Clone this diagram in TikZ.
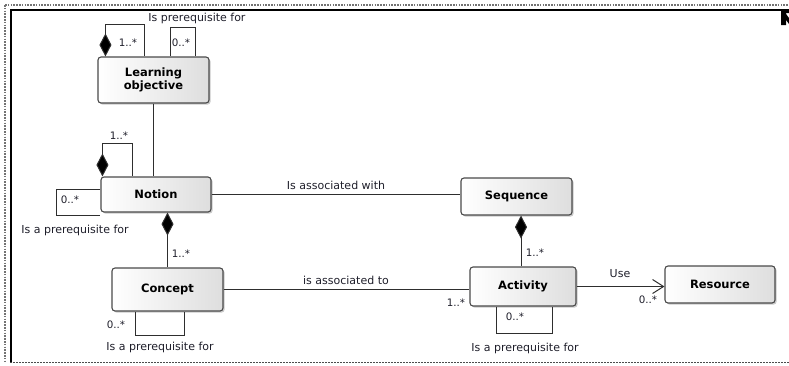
\documentclass[tikz,border=0pt]{standalone}
\usepackage{fontspec}
\setmainfont{DejaVu Sans}
\usetikzlibrary{arrows.meta,shadows}

\definecolor{edge}{HTML}{2E2E2E}
\definecolor{boxline}{HTML}{4A4A4A}
\definecolor{txt}{HTML}{1E1E2A}

\tikzset{
  classbox/.style={draw=boxline, line width=1.1pt, rounded corners=3pt,
    left color=white, right color=black!13,
    drop shadow={shadow xshift=1.6pt, shadow yshift=-1.6pt, opacity=0.35, fill=black!60},
    inner sep=0pt, align=center,
    font=\fontsize{11.5}{14}\selectfont\bfseries, text=black},
  assoc/.style={draw=edge, line width=1pt},
  comp/.style={assoc, {Diamond[length=23pt, width=12pt, fill=black]}-},
  uses/.style={assoc, -{Straight Barb[length=11pt, width=14pt, line width=1pt]}},
  lbl/.style={font=\fontsize{11}{13}\selectfont, text=txt, inner sep=1pt},
  mult/.style={font=\fontsize{10.3}{12}\selectfont, text=txt, inner sep=1pt},
  hatch/.style={draw=black!55, line width=1.6pt, dash pattern=on 1.6pt off 1.2pt},
}

\begin{document}
\begin{tikzpicture}[x=1pt, y=-1pt]
\useasboundingbox (0,0) rectangle (789,365);

% surrounding frame
\draw[hatch] (5,5) -- (789,5);
\draw[hatch] (5,5) -- (5,362);
\draw[black!70, line width=1.2pt, dash pattern=on 1.5pt off 1.5pt] (10,362.5) -- (789,362.5);
\draw[black, line width=2pt] (10.5,362) -- (10.5,10) -- (783,10);
\fill[black] (781,9) -- (789,9) -- (789,13) -- (786,13) -- (786,25) -- (781,25) -- cycle;
\fill[black] (786,14) -- (789,18) -- (789,24) -- (786,20) -- cycle;

% classes
\node[classbox, minimum width=111pt, minimum height=46pt] (lo) at (153.5,80) {Learning\\[-1pt]objective};
\node[classbox, minimum width=110pt, minimum height=35pt] (notion) at (156,194.5) {Notion};
\node[classbox, minimum width=111pt, minimum height=43pt] (concept) at (167.5,289.5) {Concept};
\node[classbox, minimum width=111pt, minimum height=37pt] (sequence) at (516.5,196.5) {Sequence};
\node[classbox, minimum width=106pt, minimum height=39pt] (activity) at (523,286.5) {Activity};
\node[classbox, minimum width=110pt, minimum height=37pt] (resource) at (720,284.5) {Resource};

% learning objective: self associations
\draw[comp] ([xshift=8pt]lo.north west) -- ++(0,-32) -| ([xshift=47pt]lo.north west);
\draw[assoc] ([xshift=73pt]lo.north west) -- ++(0,-29) -| ([xshift=98pt]lo.north west);
\node[mult] (m1) at (128,43) {1..*};
\node[mult, fill=white] (m2) at (181,43) {0..*};
\node[lbl] (l1) at (197,18) {Is prerequisite for};

% learning objective -- notion
\draw[assoc] (lo.south) -- (lo.south |- notion.north);

% notion: self associations
\draw[comp] ([xshift=2pt]notion.north west) -- ++(0,-33) -| ([xshift=32pt]notion.north west);
\draw[assoc] ([yshift=-13pt]notion.north west) -- ++(-44,0) -- ++(0,26) -- ++(44,0);
\node[mult] (m3) at (119,136) {1..*};
\node[mult] (m4) at (70,200) {0..*};
\node[lbl] (l2) at (75,230) {Is a prerequisite for};

% notion -- concept
\draw[comp] (concept.north |- notion.south) -- (concept.north);
\node[mult] (m5) at (181,254) {1..*};

% concept: self association
\draw[assoc] ([xshift=24pt]concept.south west) -- ++(0,24) -| ([xshift=73pt]concept.south west);
\node[mult] (m6) at (116,325) {0..*};
\node[lbl] (l3) at (160,347) {Is a prerequisite for};

% notion -- sequence
\draw[assoc] (notion.east) -- (notion.east -| sequence.west);
\node[lbl] (l4) at (336,185) {Is associated with};

% concept -- activity
\draw[assoc] (concept.east) -- (concept.east -| activity.west);
\node[lbl] (l5) at (346,280) {is associated to};
\node[mult] (m7) at (456,303) {1..*};

% sequence -- activity
\draw[comp] ([xshift=-2pt]activity.north |- sequence.south) -- ([xshift=-2pt]activity.north);
\node[mult] (m8) at (535,253) {1..*};

% activity: self association
\draw[assoc] ([xshift=27pt]activity.south west) -- ++(0,27) -| ([xshift=83pt]activity.south west);
\node[mult] (m9) at (515,317) {0..*};
\node[lbl] (l6) at (525,348) {Is a prerequisite for};

% activity -- resource
\draw[uses] (activity.east) -- (activity.east -| resource.west);
\node[lbl] (l7) at (620,274) {Use};
\node[mult] (m10) at (648,300) {0..*};
\end{tikzpicture}
\end{document}
